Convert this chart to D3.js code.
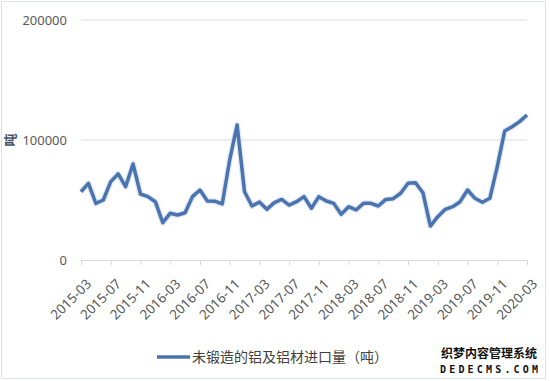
<!doctype html>
<html>
<head>
<meta charset="utf-8">
<title>aluminium imports</title>
<script src="https://d3js.org/d3.v7.min.js"></script>
<style>
  body { margin: 0; background: #fff; }
  text { font-family: "Noto Sans", "Noto Sans CJK SC", sans-serif; }
</style>
</head>
<body>
<script>

// monthly imports of unwrought aluminium, tonnes
var months = [];
for (var y = 2015; y <= 2020; y++) {
  for (var m = 1; m <= 12; m++) {
    var key = y + '-' + (m < 10 ? '0' + m : m);
    if (key >= '2015-03' && key <= '2020-03') months.push(key);
  }
}
var tonnes = [
  56900, 63900, 47200, 50000, 65300, 71700, 61100, 80000, 55000, 52800,
  48600, 31100, 38900, 37500, 39400, 52800, 58300, 49200, 49000, 46700,
  83300, 112500, 56900, 45000, 48300, 42200, 47800, 50500, 45800, 48600,
  52800, 43100, 52800, 49200, 47200, 38100, 44400, 41700, 47200, 47200,
  45000, 50500, 51100, 55600, 63900, 64400, 56100, 28300, 36100, 42200,
  44400, 48600, 58300, 51400, 48100, 51400, 77800, 107500, 111100, 115300,
  120800
];
var yTicks = [0, 100000, 200000];
var seriesName = '未锻造的铝及铝材进口量（吨）';
var yTitle = '吨';

var width = 550, height = 381;
var plotLeft = 81, plotRight = 527, plotTop = 20, plotBottom = 260;

var svg = d3.select('body').append('svg')
  .attr('width', width)
  .attr('height', height);

// outer border
svg.append('rect')
  .attr('x', 1.5).attr('y', 1.5)
  .attr('width', 544).attr('height', 377)
  .attr('fill', '#fff')
  .attr('stroke', '#dde2ea');

var xScale = d3.scalePoint()
  .domain(months)
  .range([plotLeft, plotRight]);

var yScale = d3.scaleLinear()
  .domain([0, 200000])
  .range([plotBottom, plotTop]);

// gridlines
svg.append('g')
  .selectAll('line')
  .data(yTicks.slice(1))
  .enter()
  .append('line')
  .attr('x1', plotLeft).attr('x2', plotRight)
  .attr('y1', function(d) { return yScale(d); })
  .attr('y2', function(d) { return yScale(d); })
  .attr('stroke', '#d9dde3')
  .attr('stroke-width', 1);

// y axis labels
var yAxis = d3.axisLeft(yScale)
  .tickValues(yTicks)
  .tickFormat(d3.format('d'))
  .tickSize(0)
  .tickPadding(14);

var gy = svg.append('g')
  .attr('transform', 'translate(' + plotLeft + ',0)')
  .call(yAxis);
gy.select('.domain').remove();
gy.selectAll('text')
  .attr('fill', '#595959')
  .style('font-size', '13px');

// x axis
var xLabels = months.filter(function(d, i) { return i % 4 === 0; });
var xAxis = d3.axisBottom(xScale)
  .tickValues(xLabels)
  .tickSize(5)
  .tickSizeOuter(0)
  .tickPadding(4);

var gx = svg.append('g')
  .attr('transform', 'translate(0,' + plotBottom + ')')
  .call(xAxis);
gx.select('.domain').attr('stroke', '#d9d9d9');
gx.selectAll('.tick line').attr('stroke', '#d9d9d9');
gx.selectAll('text')
  .attr('fill', '#595959')
  .style('font-size', '13.5px')
  .style('text-anchor', 'end')
  .attr('dy', '0.35em')
  .attr('transform', 'translate(1,15) rotate(-45)');

// y axis title
svg.append('text')
  .attr('transform', 'translate(15,' + yScale(100000) + ') rotate(-90)')
  .style('text-anchor', 'middle')
  .style('font-family', '"Noto Sans CJK SC", sans-serif')
  .style('font-size', '13px')
  .style('font-weight', 'bold')
  .attr('fill', '#44546a')
  .text(yTitle);

// series line
var line = d3.line()
  .x(function(d, i) { return xScale(months[i]); })
  .y(function(d) { return yScale(d); });

svg.append('path')
  .datum(tonnes)
  .attr('d', line)
  .attr('fill', 'none')
  .attr('stroke', '#c6d3e6')
  .attr('stroke-width', 6)
  .attr('stroke-linejoin', 'round')
  .attr('opacity', 0.5);

svg.append('path')
  .datum(tonnes)
  .attr('d', line)
  .attr('fill', 'none')
  .attr('stroke', '#4a74b0')
  .attr('stroke-width', 3.5)
  .attr('stroke-linejoin', 'round');

// legend
svg.append('line')
  .attr('x1', 157).attr('x2', 190)
  .attr('y1', 357).attr('y2', 357)
  .attr('stroke', '#4a74b0')
  .attr('stroke-width', 3.5);

svg.append('text')
  .attr('x', 192).attr('y', 362)
  .style('font-family', '"Noto Sans CJK SC", sans-serif')
  .style('font-size', '14px')
  .attr('fill', '#404040')
  .text(seriesName);

// watermark
var wm = svg.append('g')
  .style('font-weight', 'bold')
  .attr('fill', '#111')
  .attr('stroke', '#fff')
  .attr('stroke-width', 0.6)
  .attr('paint-order', 'stroke');
wm.append('text')
  .attr('x', 489).attr('y', 358)
  .style('text-anchor', 'middle')
  .style('font-family', '"Noto Sans CJK SC", sans-serif')
  .style('font-size', '12px')
  .text('织梦内容管理系统');
wm.append('text')
  .attr('x', 440).attr('y', 373)
  .attr('textLength', 98)
  .attr('lengthAdjust', 'spacing')
  .style('font-family', '"DejaVu Sans Mono", monospace')
  .style('font-size', '10px')
  .text('DEDECMS.COM');

</script>
</body>
</html>
